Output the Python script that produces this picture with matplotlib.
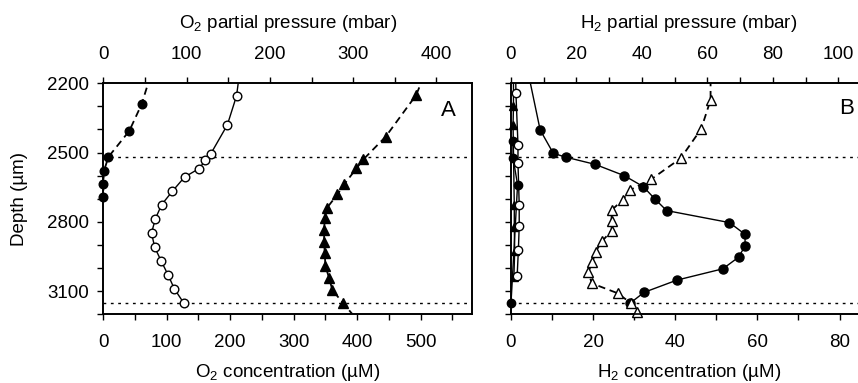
import numpy as np
import matplotlib
matplotlib.use('Agg')
import matplotlib.pyplot as plt
from matplotlib.ticker import MultipleLocator, FixedLocator

# ---------------- data ----------------
# Panel A : O2 concentration (uM) versus depth (um)
A_fc_depth = [2170, 2290, 2406, 2519, 2580, 2635, 2693]
A_fc_o2 = [74, 60.5, 41, 8, 1, 0, 0]

A_oc_depth = [2170, 2254, 2380, 2507, 2533, 2569, 2606, 2667, 2725, 2787,
              2848, 2910, 2968, 3029, 3090, 3152]
A_oc_o2 = [214, 210, 195.5, 169, 161, 151, 128, 109, 92, 82,
           76, 81, 91, 102, 112, 127]

A_tr_depth = [2170, 2251, 2431, 2529, 2568, 2636, 2681, 2741, 2784, 2835,
              2886, 2936, 2991, 3044, 3095, 3152, 3240]
A_tr_o2 = [505, 493, 445, 410, 399, 380, 369, 352, 349, 348,
           348, 349, 350, 356, 361, 378, 405]

# Panel B : H2 concentration (uM) versus depth (um)
B_fc_depth = [2130, 2402, 2503, 2520, 2551, 2600, 2647, 2702, 2751, 2803,
              2854, 2904, 2953, 3003, 3052, 3105, 3152]
B_fc_h2 = [3.9, 7.1, 10.3, 13.4, 20.5, 27.6, 32.2, 35.1, 37.9, 53.2,
           57, 57, 55.4, 51.6, 40.4, 32.4, 29]

B_ot_depth = [2130, 2272, 2398, 2525, 2616, 2662, 2705, 2749, 2795, 2838,
              2883, 2929, 2975, 3018, 3066, 3109, 3152, 3192]
B_ot_h2 = [48.6, 48.6, 46.3, 41.3, 34.1, 29, 27.2, 24.5, 24.5, 24.5,
           22.2, 20.6, 19.8, 18.8, 19.7, 26.0, 29.2, 30.8]

B_ft_depth = [2130, 2300, 2379, 2727, 2822, 2925, 3040]
B_ft_h2 = [0.6, 0.6, 0.5, 0.8, 0.8, 0.9, 0.7]

B_fs_depth = [2448, 2523, 2639, 3152]
B_fs_h2 = [0.5, 0.5, 1.6, 0.0]

B_os_depth = [2130, 2242, 2466, 2546, 2725, 2818, 2920, 3034]
B_os_h2 = [1.1, 1.2, 1.7, 1.7, 2.0, 2.0, 1.8, 1.5]

ref_depths = [2520, 3152]
y_major = [2200, 2500, 2800, 3100]

# ---------------- style ----------------
plt.rcParams['font.family'] = ['Liberation Sans', 'DejaVu Sans']
plt.rcParams['mathtext.fontset'] = 'custom'
plt.rcParams['mathtext.rm'] = 'Liberation Sans'
plt.rcParams['mathtext.it'] = 'Liberation Sans:italic'
plt.rcParams['mathtext.bf'] = 'Liberation Sans:bold'

FS = 13.5
W, H = 858, 383
fig = plt.figure(figsize=(W / 100, H / 100), dpi=100)


def pos(l, r, t, b):
    return [l / W, 1 - b / H, (r - l) / W, (b - t) / H]


axA = fig.add_axes(pos(103.3, 472.3, 83.3, 314.3))
axB = fig.add_axes(pos(511, 858, 83.3, 314.3))

DASH = (0, (4, 2.6))


def series(ax, x, d, marker, filled, ls, lw=1.0, ms=6.0):
    x = np.asarray(x, float)
    d = np.asarray(d, float)
    ax.plot(x, d, color='black', ls=ls, lw=lw, zorder=2)
    m = (d >= 2195) & (d <= 3205)
    ax.plot(x[m], d[m], ls='none', marker=marker, ms=ms,
            mfc='black' if filled else 'white', mec='black', mew=1.0,
            clip_on=False, zorder=3)


# Panel A
series(axA, A_fc_o2, A_fc_depth, 'o', True, DASH, lw=1.3, ms=6.2)
series(axA, A_oc_o2, A_oc_depth, 'o', False, '-', lw=1.0, ms=6.2)
series(axA, A_tr_o2, A_tr_depth, '^', True, DASH, lw=1.3, ms=6.5)

# Panel B
series(axB, B_ft_h2, B_ft_depth, '^', True, '-', lw=1.0, ms=6.0)
series(axB, B_fs_h2, B_fs_depth, 'o', True, '-', lw=1.0, ms=6.0)
series(axB, B_os_h2, B_os_depth, 'o', False, '-', lw=1.0, ms=6.0)
series(axB, B_fc_h2, B_fc_depth, 'o', True, '-', lw=1.0, ms=6.5)
series(axB, B_ot_h2, B_ot_depth, '^', False, DASH, lw=1.3, ms=6.5)

for ax in (axA, axB):
    for yd in ref_depths:
        ax.axhline(yd, color='black', lw=1.0, ls=(0, (2, 3.3)), zorder=1)
    ax.set_ylim(3200, 2200)
    ax.yaxis.set_major_locator(FixedLocator(y_major))
    ax.yaxis.set_minor_locator(MultipleLocator(100))
    for s in ax.spines.values():
        s.set_linewidth(1.2)

axA.set_xlim(0, 581.5)
axA.xaxis.set_major_locator(MultipleLocator(100))
axA.xaxis.set_minor_locator(MultipleLocator(50))
axB.set_xlim(0, 84.5)
axB.xaxis.set_major_locator(MultipleLocator(20))
axB.xaxis.set_minor_locator(MultipleLocator(10))
axB.spines['right'].set_visible(False)

topA = axA.twiny()
topA.set_xlim(0, 443)
topA.xaxis.set_major_locator(MultipleLocator(100))
topA.xaxis.set_minor_locator(MultipleLocator(50))
topB = axB.twiny()
topB.set_xlim(0, 106)
topB.xaxis.set_major_locator(MultipleLocator(20))
topB.xaxis.set_minor_locator(MultipleLocator(10))
topB.spines['right'].set_visible(False)
for t in (topA, topB):
    for s in t.spines.values():
        s.set_linewidth(1.2)

for ax in (axA, axB, topA, topB):
    ax.tick_params(axis='both', which='both', direction='out', width=1.0,
                   length=4.5, labelsize=FS, colors='black')
    ax.tick_params(axis='x', which='major', pad=10)
    ax.tick_params(axis='y', which='major', pad=6)

axB.tick_params(axis='y', which='both', labelleft=False)

# axis labels
axA.set_ylabel('Depth (\u00b5m)', fontsize=FS)
axA.yaxis.set_label_coords(-0.228, 0.5)
axA.yaxis.label.set_verticalalignment('center')

axA.set_xlabel('O$_2$ concentration (\u00b5M)', fontsize=FS)
axA.xaxis.set_label_coords(0.5, -0.254)
axA.xaxis.label.set_verticalalignment('center')
topA.set_xlabel('O$_2$ partial pressure (mbar)', fontsize=FS)
topA.xaxis.set_label_coords(0.5, 1.261)
topA.xaxis.label.set_verticalalignment('center')

axB.set_xlabel('H$_2$ concentration (\u00b5M)', fontsize=FS)
axB.xaxis.set_label_coords(0.513, -0.254)
axB.xaxis.label.set_verticalalignment('center')
topB.set_xlabel('H$_2$ partial pressure (mbar)', fontsize=FS)
topB.xaxis.set_label_coords(0.513, 1.261)
topB.xaxis.label.set_verticalalignment('center')

axA.text(448 / W, 1 - 110 / H, 'A', transform=fig.transFigure, fontsize=16,
         ha='center', va='center')
axB.text(847 / W, 1 - 109 / H, 'B', transform=fig.transFigure, fontsize=16,
         ha='center', va='center')

fig.savefig('out.png', dpi=100)
